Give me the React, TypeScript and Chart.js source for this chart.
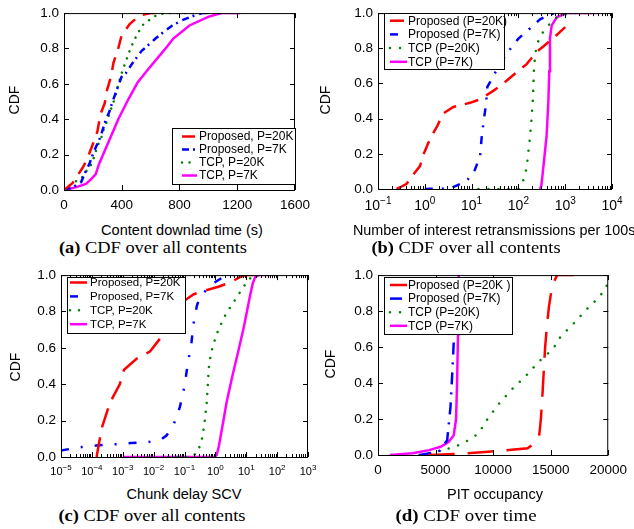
import React, { useEffect, useRef } from 'react';
import { Chart, registerables } from 'chart.js';
Chart.register(...registerables);

type P = [number, number];

// ---------- tick values ----------
const yTicks = [0, 0.2, 0.4, 0.6, 0.8, 1.0];
const aXTicks = [0, 400, 800, 1200, 1600];
const bXTicks = [0.1, 1, 10, 100, 1000, 10000];
const cXTicks = [1e-5, 1e-4, 1e-3, 1e-2, 1e-1, 1, 10, 100, 1000];
const dXTicks = [0, 5000, 10000, 15000, 20000];

// ---------- legend labels ----------
const labelsComma = ['Proposed, P=20K', 'Proposed, P=7K', 'TCP, P=20K', 'TCP, P=7K'];
const labelsParenB = ['Proposed (P=20K)', 'Proposed (P=7K)', 'TCP (P=20K)', 'TCP (P=7K)'];
const labelsParenD = ['Proposed (P=20K )', 'Proposed (P=7K)', 'TCP (P=20K)', 'TCP (P=7K)'];
const COLORS = ['#ff0000', '#0000ff', '#008000', '#ff00ff'];

// ---------- (a) content download time ----------
const aProp20K: P[] = [[0,0],[60,0.04],[130,0.127],[163,0.18],[202,0.264],[231,0.33],[253,0.43],[282,0.49],[298,0.565],[325,0.64],[343,0.72],[376,0.80],[399,0.874],[455,0.938],[500,0.97],[544,0.99],[600,1.0],[640,1.0]];
const aProp7K: P[] = [[0,0],[60,0.015],[119,0.045],[152,0.109],[175,0.146],[208,0.219],[247,0.29],[260,0.32],[287,0.39],[316,0.446],[332,0.49],[365,0.565],[399,0.64],[428,0.66],[477,0.72],[538,0.787],[567,0.807],[634,0.856],[701,0.90],[750,0.93],[820,0.96],[914,0.99],[960,1.0],[1000,1.0]];
const aTCP20K: P[] = [[0,0],[60,0.04],[119,0.064],[152,0.104],[193,0.149],[231,0.246],[258,0.295],[276,0.346],[302,0.397],[320,0.446],[343,0.496],[361,0.546],[376,0.596],[394,0.646],[414,0.696],[437,0.747],[459,0.797],[484,0.843],[515,0.892],[551,0.938],[600,0.966],[645,0.99],[700,1.0],[1000,1.0]];
const aTCP7K: P[] = [[0,0],[80,0.015],[152,0.035],[186,0.06],[220,0.09],[242,0.146],[309,0.273],[376,0.40],[444,0.51],[511,0.61],[590,0.69],[668,0.765],[713,0.81],[757,0.856],[869,0.93],[1003,0.98],[1093,1.0],[1220,1.0]];

// ---------- (b) interest retransmissions ----------
const bProp20K: P[] = [[0.25,0],[0.3,0.01],[0.41,0.03],[0.57,0.083],[0.79,0.13],[0.95,0.2],[1.06,0.23],[1.29,0.285],[1.78,0.35],[2.49,0.43],[4.07,0.466],[9.25,0.49],[13.9,0.506],[20,0.53],[29,0.558],[47.6,0.60],[91,0.663],[150,0.71],[246,0.78],[340,0.81],[600,0.866],[912,0.91],[1000,0.92]];
const bProp7K: P[] = [[1,0],[3.5,0.003],[7.9,0.046],[11.8,0.11],[15.2,0.19],[16.5,0.3],[18.4,0.4],[20.3,0.48],[21.7,0.58],[35,0.68],[60,0.78],[100,0.855],[190,0.92],[290,0.965],[450,0.99],[600,1.0]];
const bTCP20K: P[] = [[14,0],[100,0],[126,0.046],[150,0.12],[163,0.21],[178,0.30],[191,0.40],[202,0.49],[208,0.58],[214,0.67],[226,0.746],[245,0.82],[319,0.884],[436,0.93],[660,0.976],[1250,1.0],[3000,1.0]];
const bTCP7K: P[] = [[290,0],[310,0.02],[340,0.12],[400,0.30],[436,0.49],[457,0.67],[473,0.856],[515,0.93],[660,0.976],[1070,1.0],[4700,1.0]];

// ---------- (c) chunk delay SCV ----------
const cProp20K: P[] = [[1.43e-4,0],[1.45e-4,0.01],[2.1e-4,0.16],[3.9e-4,0.30],[8e-4,0.40],[1.1e-3,0.48],[2.8e-3,0.54],[7.6e-3,0.58],[0.016,0.65],[0.023,0.70],[0.05,0.80],[0.1,0.86],[0.2,0.895],[0.36,0.91],[1.25,0.936],[3.4,0.963],[6.3,0.99],[10,1.0],[20,1.0]];
const cProp7K: P[] = [[1e-5,0.036],[4.7e-5,0.055],[1.6e-4,0.064],[5.6e-4,0.07],[1.9e-3,0.077],[6.7e-3,0.082],[0.018,0.098],[0.026,0.118],[0.043,0.171],[0.071,0.275],[0.1,0.39],[0.13,0.52],[0.17,0.635],[0.19,0.72],[0.25,0.83],[0.32,0.884],[0.85,0.955],[1.8,0.99],[2.5,1.0],[4,1.0]];
const cTCP20K: P[] = [[0.03,0],[0.15,0],[0.25,0.02],[0.35,0.08],[0.44,0.18],[0.52,0.29],[0.57,0.4],[0.61,0.49],[0.72,0.57],[0.9,0.63],[1.25,0.70],[2.1,0.78],[4.2,0.86],[8.5,0.94],[13,0.98],[17,1.0],[40,1.0]];
const cTCP7K: P[] = [[1e-3,0],[0.95,0],[1.1,0.01],[1.3,0.06],[1.7,0.17],[2.3,0.3],[3.6,0.45],[5.5,0.58],[8.5,0.72],[12.5,0.865],[16,0.95],[19.5,0.99],[25,1.0],[52,1.0]];

// ---------- (d) PIT occupancy ----------
const dProp20K: P[] = [[4400,0],[7500,0.008],[9570,0.018],[12990,0.037],[13700,0.07],[13990,0.1],[14150,0.2],[14300,0.35],[14420,0.49],[14520,0.6],[14650,0.7],[14840,0.82],[15130,0.94],[15560,1.0],[17000,1.0]];
const dProp7K: P[] = [[3600,0],[5300,0.018],[6010,0.082],[6300,0.27],[6440,0.44],[6580,0.63],[6780,0.82],[6870,1.0]];
const dTCP20K: P[] = [[3590,0],[5010,0.018],[6720,0.046],[7800,0.08],[8720,0.119],[9570,0.206],[10570,0.29],[11710,0.37],[12850,0.44],[13990,0.52],[15210,0.59],[15840,0.656],[16980,0.73],[18120,0.81],[19260,0.88],[20000,0.955]];
const dTCP7K: P[] = [[1030,0],[3020,0.01],[4440,0.027],[5440,0.046],[6150,0.073],[6580,0.11],[6780,0.2],[6870,0.4],[6950,0.67],[7010,1.0]];

const SANS = '"Liberation Sans", Arial, Helvetica, sans-serif';
const SERIF = '"Liberation Serif", "Times New Roman", serif';

type Spec = {
  left: number; top: number; w: number; h: number;
  plot: [number, number, number, number];
  xType: 'linear' | 'logarithmic';
  xMin: number; xMax: number; xTicks: number[];
  logLabel?: { base: number; exp: number; baseline: number };
  series: P[][];
  labels: string[];
  dashes: number[][];
  caps: CanvasLineCap[];
  legend: { x: number; y: number; w: number; h: number; row0: number; rowH: number; s0: number; s1: number; tx: number; font: number };
};

const specs: Spec[] = [
  {
    left: 0, top: 0, w: 317, h: 215, plot: [64, 7, 302, 190],
    xType: 'linear', xMin: 0, xMax: 1600, xTicks: aXTicks,
    series: [aProp20K, aProp7K, aTCP20K, aTCP7K], labels: labelsComma,
    dashes: [[13, 9], [7, 4, 2, 5], [0.01, 7.5], []],
    caps: ['butt', 'butt', 'round', 'butt'],
    legend: { x: 172, y: 128, w: 123, h: 56, row0: 136.5, rowH: 13, s0: 182, s1: 197, tx: 199, font: 12 },
  },
  {
    left: 317, top: 0, w: 317, h: 215, plot: [61, 7, 295, 189],
    xType: 'logarithmic', xMin: 0.1, xMax: 10000, xTicks: bXTicks,
    logLabel: { base: 14, exp: 10, baseline: 210 },
    series: [bProp20K, bProp7K, bTCP20K, bTCP7K], labels: labelsParenB,
    dashes: [[14, 9], [8, 9, 2, 9], [0.01, 10], []],
    caps: ['butt', 'butt', 'round', 'butt'],
    legend: { x: 67, y: 13, w: 120, h: 56, row0: 20.7, rowH: 13.7, s0: 73, s1: 90, tx: 91, font: 12 },
  },
  {
    left: 0, top: 262, w: 330, h: 215, plot: [61, 8, 308, 195],
    xType: 'logarithmic', xMin: 1e-5, xMax: 1000, xTicks: cXTicks,
    logLabel: { base: 11, exp: 8, baseline: 213 },
    series: [cProp20K, cProp7K, cTCP20K, cTCP7K], labels: labelsComma,
    dashes: [[20, 10], [8, 12, 2, 12], [0.01, 9], []],
    caps: ['butt', 'butt', 'round', 'butt'],
    legend: { x: 67, y: 15, w: 118, h: 56, row0: 20.5, rowH: 13.9, s0: 70, s1: 87, tx: 90, font: 11.5 },
  },
  {
    left: 317, top: 262, w: 317, h: 215, plot: [61, 10, 295, 193],
    xType: 'linear', xMin: 0, xMax: 20000, xTicks: dXTicks,
    series: [dProp20K, dProp7K, dTCP20K, dTCP7K], labels: labelsParenD,
    dashes: [[26, 13], [12, 8, 2, 8], [0.01, 10], []],
    caps: ['butt', 'butt', 'round', 'butt'],
    legend: { x: 67, y: 15, w: 128, h: 57, row0: 23, rowH: 13.6, s0: 73, s1: 90, tx: 91, font: 12 },
  },
];

function minorValues(min: number, max: number): number[] {
  const out: number[] = [];
  for (let e = Math.floor(Math.log10(min)); e <= Math.ceil(Math.log10(max)); e++) {
    for (let k = 2; k <= 9; k++) {
      const v = k * Math.pow(10, e);
      if (v > min && v < max) out.push(v);
    }
  }
  return out;
}

function Panel({ spec }: { spec: Spec }) {
  const ref = useRef<HTMLCanvasElement>(null);
  useEffect(() => {
    const s = spec;
    const [pl, pt, pr, pb] = s.plot;
    const framePlugin = {
      id: 'frame',
      afterDatasetsDraw(chart: any) {
        const { ctx, chartArea } = chart;
        const { left, right, top, bottom } = chartArea;
        const xs = chart.scales.x;
        const ys = chart.scales.y;
        ctx.save();
        ctx.strokeStyle = '#000';
        ctx.lineWidth = 1;
        ctx.setLineDash([]);
        ctx.beginPath();
        const major = 5;
        const minor = 3;
        s.xTicks.forEach((v) => {
          const p = Math.round(xs.getPixelForValue(v)) + 0.5;
          ctx.moveTo(p, bottom); ctx.lineTo(p, bottom - major);
          ctx.moveTo(p, top); ctx.lineTo(p, top + major);
        });
        if (s.xType === 'logarithmic') {
          minorValues(s.xMin, s.xMax).forEach((v) => {
            const p = Math.round(xs.getPixelForValue(v)) + 0.5;
            ctx.moveTo(p, bottom); ctx.lineTo(p, bottom - minor);
            ctx.moveTo(p, top); ctx.lineTo(p, top + minor);
          });
        }
        yTicks.forEach((v) => {
          const p = Math.round(ys.getPixelForValue(v)) + 0.5;
          ctx.moveTo(left, p); ctx.lineTo(left + major, p);
          ctx.moveTo(right, p); ctx.lineTo(right - major, p);
        });
        ctx.stroke();
        ctx.strokeRect(left + 0.5, top + 0.5, right - left - 1, bottom - top);
        // legend
        const L = s.legend;
        ctx.fillStyle = '#fff';
        ctx.fillRect(L.x, L.y, L.w, L.h);
        ctx.strokeRect(L.x + 0.5, L.y + 0.5, L.w, L.h);
        ctx.font = `${L.font}px ${SANS}`;
        ctx.textBaseline = 'middle';
        ctx.textAlign = 'left';
        chart.data.datasets.forEach((d: any, i: number) => {
          const y = L.row0 + i * L.rowH;
          ctx.save();
          ctx.strokeStyle = d.borderColor;
          ctx.lineWidth = d.borderWidth;
          ctx.lineCap = d.borderCapStyle;
          ctx.setLineDash(d.borderDash || []);
          ctx.beginPath();
          ctx.moveTo(L.s0, y);
          ctx.lineTo(L.s1, y);
          ctx.stroke();
          ctx.restore();
          ctx.fillStyle = '#000';
          ctx.fillText(s.labels[i], L.tx, y + 0.5);
        });
        // log labels
        if (s.logLabel) {
          const LL = s.logLabel;
          ctx.fillStyle = '#000';
          ctx.textBaseline = 'alphabetic';
          ctx.textAlign = 'left';
          s.xTicks.forEach((v) => {
            const e = Math.round(Math.log10(v));
            const es = e < 0 ? '\u2212' + Math.abs(e) : String(e);
            ctx.font = `${LL.base}px ${SANS}`;
            const wb = ctx.measureText('10').width;
            ctx.font = `${LL.exp}px ${SANS}`;
            const we = ctx.measureText(es).width;
            const x0 = xs.getPixelForValue(v) - (wb + we) / 2;
            ctx.font = `${LL.base}px ${SANS}`;
            ctx.fillText('10', x0, LL.baseline);
            ctx.font = `${LL.exp}px ${SANS}`;
            ctx.fillText(es, x0 + wb, LL.baseline - LL.base * 0.42);
          });
        }
        ctx.restore();
      },
    };

    const chart = new Chart(ref.current as HTMLCanvasElement, {
      type: 'line',
      data: {
        datasets: s.series.map((pts, i) => ({
          label: s.labels[i],
          data: pts.map(([x, y]) => ({ x, y })),
          borderColor: COLORS[i],
          backgroundColor: COLORS[i],
          borderWidth: 2.5,
          borderDash: s.dashes[i],
          borderCapStyle: s.caps[i],
          pointRadius: 0,
          fill: false,
          tension: 0,
        })),
      },
      options: {
        responsive: false,
        animation: false,
        devicePixelRatio: 1,
        layout: { padding: { left: 0, top: pt, right: s.w - pr, bottom: 0 }, autoPadding: false } as any,
        plugins: { legend: { display: false }, tooltip: { enabled: false } },
        scales: {
          x: {
            type: s.xType,
            min: s.xMin,
            max: s.xMax,
            grid: { display: false, drawTicks: false },
            border: { display: false },
            ticks: {
              display: s.xType === 'linear',
              font: { family: SANS, size: 13.5 },
              color: '#000',
              padding: 7,
              maxRotation: 0,
              autoSkip: false,
              callback: (v: any) => String(v),
            },
            afterBuildTicks: (sc: any) => { sc.ticks = s.xTicks.map((v) => ({ value: v })); },
            afterFit: (sc: any) => { sc.height = s.h - pb; },
          } as any,
          y: {
            type: 'linear',
            min: 0,
            max: 1,
            grid: { display: false, drawTicks: false },
            border: { display: false },
            ticks: {
              font: { family: SANS, size: 13.5 },
              color: '#000',
              padding: 5,
              callback: (v: any) => Number(v).toFixed(1),
            },
            afterBuildTicks: (sc: any) => { sc.ticks = yTicks.map((v) => ({ value: v })); },
            afterFit: (sc: any) => { sc.width = pl; },
          } as any,
        },
      },
      plugins: [framePlugin as any],
    });
    return () => chart.destroy();
  }, []);
  return (
    <canvas
      ref={ref}
      width={spec.w}
      height={spec.h}
      style={{ position: 'absolute', left: spec.left, top: spec.top, width: spec.w, height: spec.h }}
    />
  );
}

function Txt(props: { x: number; y: number; text: React.ReactNode; size: number; family: string; rotate?: boolean; align?: 'center' | 'left'; scaleX?: number }) {
  const { x, y, text, size, family, rotate, align = 'center', scaleX } = props;
  const tx = align === 'center' ? '-50%' : '0';
  let transform = `translate(${tx}, -50%)`;
  if (rotate) transform += ' rotate(-90deg)';
  if (scaleX) transform += ` scaleX(${scaleX})`;
  return (
    <div
      style={{
        position: 'absolute', left: x, top: y, transform, whiteSpace: 'nowrap',
        fontFamily: family, fontSize: size, lineHeight: 1, color: '#000',
        transformOrigin: align === 'center' ? 'center center' : 'left center',
      }}
    >
      {text}
    </div>
  );
}

export default function App() {
  return (
    <div style={{ position: 'absolute', left: 0, top: 0, width: 634, height: 529, overflow: 'hidden', background: '#fff' }}>
      {specs.map((s, i) => <Panel key={i} spec={s} />)}
      <Txt x={14} y={100} text="CDF" size={14} family={SANS} rotate />
      <Txt x={325} y={100} text="CDF" size={14} family={SANS} rotate />
      <Txt x={15} y={367} text="CDF" size={14} family={SANS} rotate />
      <Txt x={330} y={364} text="CDF" size={14} family={SANS} rotate />
      <Txt x={182} y={230} text="Content downlad time (s)" size={14} family={SANS} scaleX={1.04} />
      <Txt x={353} y={230} text="Number of interest retransmissions per 100s" size={14} family={SANS} align="left" scaleX={1.025} />
      <Txt x={184} y={494} text="Chunk delay SCV" size={14} family={SANS} scaleX={1.04} />
      <Txt x={495} y={494} text="PIT occupancy" size={14} family={SANS} scaleX={1.04} />
      <Txt x={153} y={248} text={<><b>(a)</b> CDF over all contents</>} size={16} family={SERIF} scaleX={1.15} />
      <Txt x={466} y={248} text={<><b>(b)</b> CDF over all contents</>} size={16} family={SERIF} scaleX={1.15} />
      <Txt x={152} y={516} text={<><b>(c)</b> CDF over all contents</>} size={16} family={SERIF} scaleX={1.15} />
      <Txt x={466} y={516} text={<><b>(d)</b> CDF over time</>} size={16} family={SERIF} scaleX={1.18} />
    </div>
  );
}
